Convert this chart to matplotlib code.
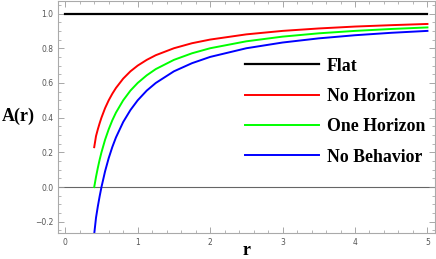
import numpy as np
import matplotlib.pyplot as plt
from matplotlib.ticker import MultipleLocator

# ---- values ----
r = [0.4, 0.425, 0.45, 0.475, 0.5, 0.55, 0.6, 0.65, 0.7, 0.8, 0.9, 1.0, 1.125, 1.25, 1.5, 1.75,
     2.0, 2.5, 3.0, 3.5, 4.0, 4.5, 5.0]
flat_r = [0.0, 5.0]
flat_a = [1.0, 1.0]
no_horizon = [0.23, 0.294, 0.333, 0.368, 0.40, 0.455, 0.50, 0.538, 0.571, 0.625, 0.667, 0.70,
              0.733, 0.76, 0.80, 0.829, 0.85, 0.88, 0.90, 0.914, 0.925, 0.933, 0.94]
one_horizon = [0.0, 0.059, 0.111, 0.158, 0.20, 0.273, 0.333, 0.385, 0.429, 0.50, 0.556, 0.60,
               0.644, 0.68, 0.733, 0.771, 0.80, 0.84, 0.867, 0.886, 0.90, 0.911, 0.92]
no_behavior = [-0.27, -0.176, -0.111, -0.053, 0.0, 0.091, 0.167, 0.231, 0.286, 0.375, 0.444, 0.50,
               0.556, 0.60, 0.667, 0.714, 0.75, 0.80, 0.833, 0.857, 0.875, 0.889, 0.90]

fig = plt.figure(figsize=(4.36, 2.59), dpi=100)
ax = fig.add_axes([0.133, 0.10, 0.864, 0.898])

ax.axhline(0, color='#666666', lw=0.8, zorder=1)
ax.plot(flat_r, flat_a, color='black', lw=1.6, label='Flat')
ax.plot(r, no_horizon, color='#ff0000', lw=1.4, label='No Horizon')
ax.plot(r, one_horizon, color='#00ff00', lw=1.4, label='One Horizon')
ax.plot(r, no_behavior, color='#0000ff', lw=1.4, label='No Behavior')

ax.set_xlim(-0.1, 5.1)
ax.set_ylim(-0.265, 1.075)
ax.xaxis.set_major_locator(MultipleLocator(1))
ax.xaxis.set_minor_locator(MultipleLocator(0.2))
ax.yaxis.set_major_locator(MultipleLocator(0.2))
ax.yaxis.set_minor_locator(MultipleLocator(0.05))
ax.tick_params(which='both', direction='in', top=True, right=True, colors='#999999',
               labelcolor='#555555', labelsize=5.5)
ax.tick_params(which='major', length=4, width=0.6)
ax.tick_params(which='minor', length=2, width=0.5)
for s in ax.spines.values():
    s.set_color('#aaaaaa')
    s.set_linewidth(0.8)

ax.set_xlabel('r', family='Liberation Serif', fontweight='bold', fontsize=13)
ax.xaxis.set_label_coords(0.50, -0.096, transform=ax.transAxes)
ax.xaxis.label.set_va('baseline')
ax.set_ylabel('A(r)', family='Liberation Serif', fontweight='bold', fontsize=13,
              rotation=0, va='center', ha='center')
ax.yaxis.set_label_coords(-0.106, 0.50)

ax.legend(loc='upper left', bbox_to_anchor=(0.496, 0.755), frameon=False,
          borderpad=0, borderaxespad=0,
          prop={'family': 'Liberation Serif', 'weight': 'bold', 'size': 12.8},
          handlelength=4.2, handletextpad=0.4, labelspacing=0.75)

fig.savefig('out.png', dpi=100)
